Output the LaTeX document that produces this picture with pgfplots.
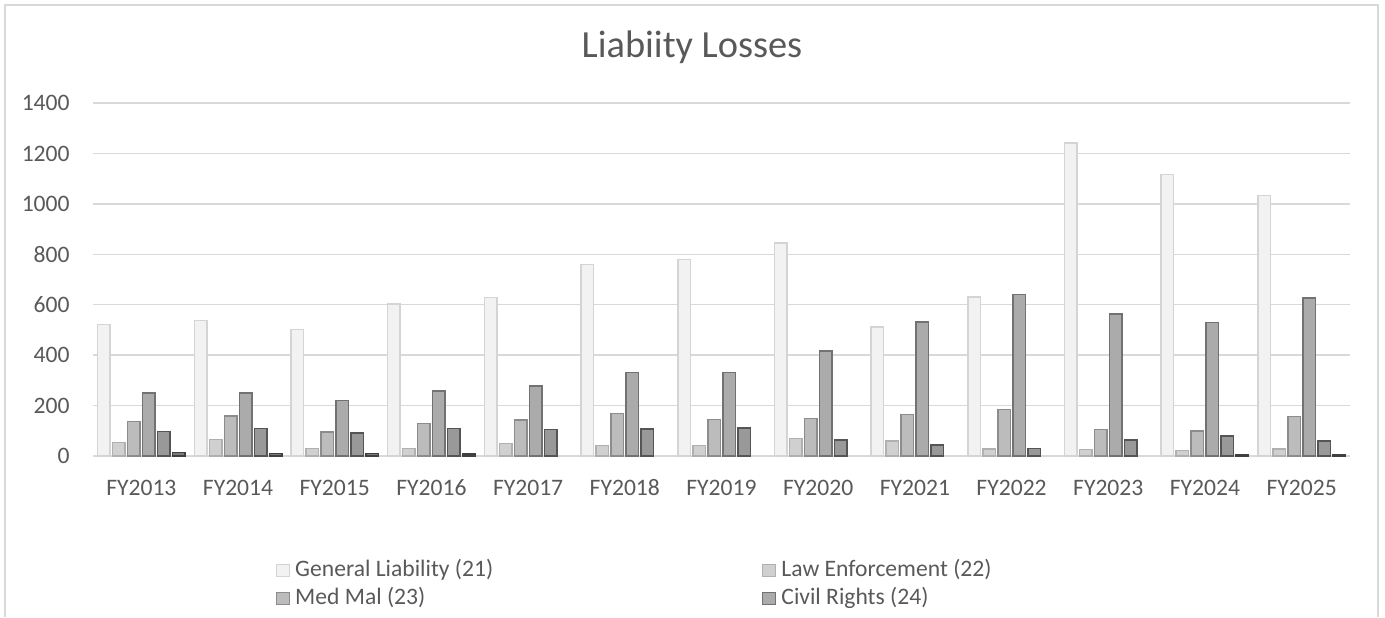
\documentclass[border=0pt]{standalone}
\usepackage{pgfplots}
\pgfplotsset{compat=1.18}
\usepackage{fontspec}
\setmainfont{Carlito}
\definecolor{gridgray}{HTML}{D9D9D9}
\definecolor{textgray}{HTML}{595959}
\definecolor{fA}{HTML}{F2F2F2}\definecolor{dA}{HTML}{D4D4D4}
\definecolor{fB}{HTML}{D0D0D0}\definecolor{dB}{HTML}{B0B0B0}
\definecolor{fC}{HTML}{BCBCBC}\definecolor{dC}{HTML}{8C8C8C}
\definecolor{fD}{HTML}{ABABAB}\definecolor{dD}{HTML}{727272}
\definecolor{fE}{HTML}{999999}\definecolor{dE}{HTML}{555555}
\definecolor{fF}{HTML}{7A7A7A}\definecolor{dF}{HTML}{404040}
\begin{document}
\begin{tikzpicture}
\useasboundingbox (0,0) rectangle (692.5pt,308.5pt);
\draw[gridgray, line width=0.75pt] (2.5pt,0pt) -- (2.5pt,306pt) -- (689pt,306pt) -- (689pt,0pt);
\node[anchor=base, text=textgray, font=\fontsize{19.2}{23}\selectfont, inner sep=0pt] at (346pt,279.5pt) {Liabiity Losses};
\begin{axis}[
  at={(46.5pt,80.5pt)}, anchor=south west,
  scale only axis, width=628.5pt, height=176.5pt,
  xmin=-0.5, xmax=12.5, ymin=0, ymax=1400,
  ytick={0,200,...,1400},
  xtick={0,...,12},
  xticklabels={FY2013,FY2014,FY2015,FY2016,FY2017,FY2018,FY2019,FY2020,FY2021,FY2022,FY2023,FY2024,FY2025},
  /pgf/number format/assume math mode=true,
  /pgf/number format/1000 sep={},
  axis x line*=bottom, axis y line*=left,
  x axis line style={draw=gridgray, line width=0.75pt, -},
  y axis line style={draw=none},
  major tick length=0pt,
  ymajorgrids, grid style={gridgray, line width=0.75pt},
  tick label style={text=textgray, font=\fontsize{11.8}{14}\selectfont, inner sep=0pt},
  yticklabel style={anchor=east, xshift=-11.5pt},
  xticklabel style={anchor=base, yshift=-19.5pt},
  ybar=1.25pt, bar width=6.25pt,
  every axis plot/.append style={line width=0.75pt},
  legend columns=2,
  legend cell align=left,
  legend image code/.code={\draw[#1, line width=0.6pt] (0pt,-3.1pt) rectangle (6.5pt,3.1pt);},
  legend style={draw=none, fill=none, inner sep=0pt, outer sep=0pt,
    at={(0.1456,-0.293)}, anchor=north west,
    font=\fontsize{11.8}{14}\selectfont, text=textgray,
    nodes={inner sep=0pt, text height=8.5pt, text depth=2.5pt},
    row sep=3pt,
    /tikz/every odd column/.append style={column sep=2.5pt},
    /tikz/every even column/.append style={column sep=134.5pt}},
]
\addplot[fill=fA, draw=dA] coordinates {(0,521) (1,538) (2,502) (3,603) (4,629) (5,759) (6,779) (7,845) (8,512) (9,631) (10,1241) (11,1116) (12,1033)};
\addlegendentry{General Liability (21)}
\addplot[fill=fB, draw=dB] coordinates {(0,53) (1,65) (2,29) (3,29) (4,49) (5,41) (6,41) (7,70) (8,59) (9,28) (10,26) (11,22) (12,28)};
\addlegendentry{Law Enforcement (22)}
\addplot[fill=fC, draw=dC] coordinates {(0,136) (1,158) (2,95) (3,128) (4,142) (5,169) (6,145) (7,149) (8,164) (9,185) (10,105) (11,100) (12,156)};
\addlegendentry{Med Mal (23)}
\addplot[fill=fD, draw=dD] coordinates {(0,250) (1,250) (2,221) (3,257) (4,277) (5,331) (6,331) (7,416) (8,531) (9,640) (10,564) (11,530) (12,626)};
\addlegendentry{Civil Rights (24)}
\addplot[fill=fE, draw=dE] coordinates {(0,98) (1,110) (2,91) (3,110) (4,105) (5,108) (6,112) (7,63) (8,44) (9,30) (10,63) (11,80) (12,59)};
\addplot[fill=fF, draw=dF] coordinates {(0,13) (1,10) (2,9) (3,7) (11,6) (12,6)};
\end{axis}
\end{tikzpicture}
\end{document}
